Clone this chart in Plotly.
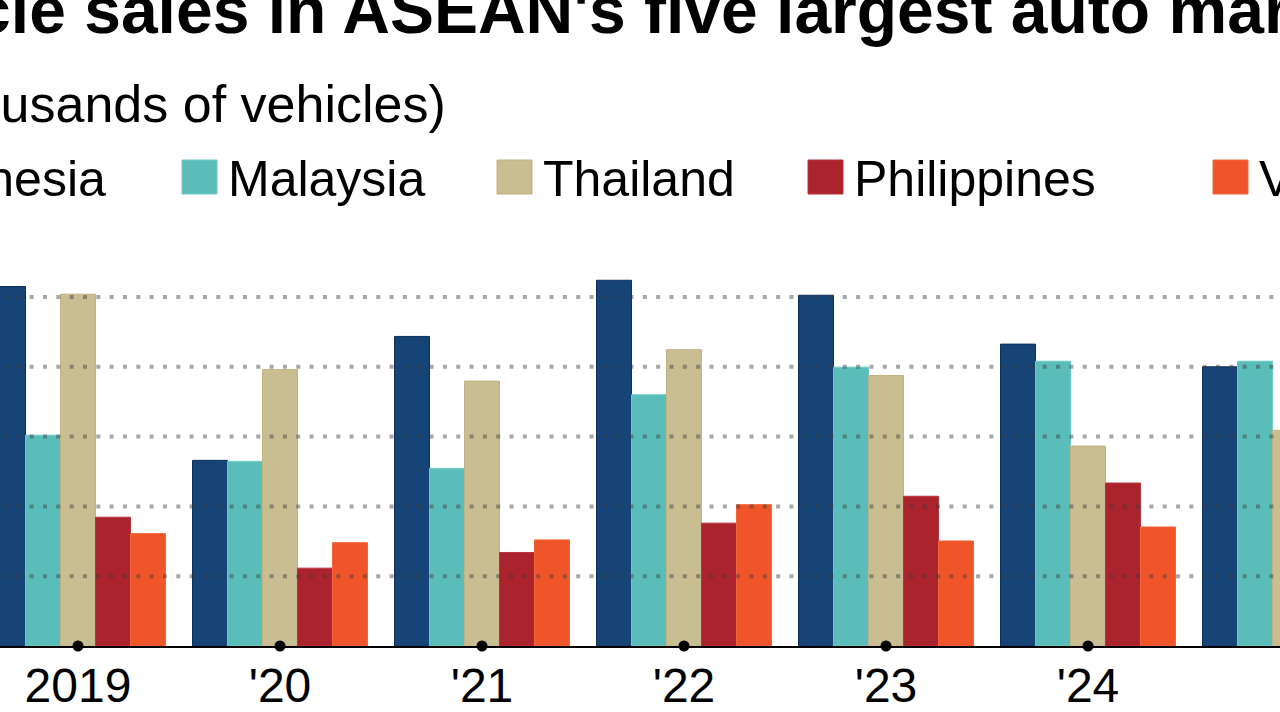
import plotly.graph_objects as go

# ---- data (thousands of vehicles) ----
years = ["2019", "'20", "'21", "'22", "'23", "'24", "'25"]
countries = ["Indonesia", "Malaysia", "Thailand", "Philippines", "Vietnam"]
indonesia = [1030, 532, 887, 1048, 1005, 865, 800]
malaysia = [604, 529, 509, 720, 799, 816, 816]
thailand = [1008, 792, 759, 849, 775, 573, 618]
philippines = [369, 223, 268, 352, 429, 467, None]
vietnam = [322, 296, 304, 405, 301, 341, None]
series = [indonesia, malaysia, thailand, philippines, vietnam]
colors = ["#164477", "#5bbdb9", "#c9bd92", "#ab232c", "#ef5529"]
outlines = ["#0c2f5c", "#6ccbc7", "#c2b383", "#b8343c", "#f2663c"]
grid_values = [200, 400, 600, 800, 1000]

W, H = 1280, 712
TOP, BASE = 244, 646
SCALE = 0.349  # pixels per thousand vehicles
FONT = "Liberation Sans, Arial, sans-serif"


def px_x(x):
    return x / W


def px_y(y):
    return (BASE - y) / (BASE - TOP)


fig = go.Figure()
for name, vals, c, oc in zip(countries, series, colors, outlines):
    fig.add_trace(go.Bar(
        x=years, y=vals, name=name,
        marker=dict(color=c, line=dict(color=oc, width=1)),
        showlegend=False,
    ))

# tick dots on the baseline
fig.add_trace(go.Scatter(
    x=years, y=[0] * len(years), mode="markers",
    marker=dict(color="black", size=11),
    cliponaxis=False, showlegend=False, hoverinfo="skip",
))

shapes = []
for g in grid_values:
    shapes.append(dict(
        type="line", xref="paper", yref="y", x0=px_x(3), x1=1, y0=g, y1=g,
        layer="above", line=dict(color="rgba(60,60,60,0.45)", width=4, dash="4px,9.33px"),
    ))

# custom legend
legend_x = [-157, 182, 497, 808, 1213]
annotations = []
for sx, name, c, oc in zip(legend_x, countries, colors, outlines):
    shapes.append(dict(
        type="rect", xref="paper", yref="paper",
        x0=px_x(sx), x1=px_x(sx + 35), y0=px_y(194), y1=px_y(160),
        fillcolor=c, line=dict(color=oc, width=1),
    ))
    annotations.append(dict(
        xref="paper", yref="paper", x=px_x(sx + 44), y=px_y(179),
        xanchor="left", yanchor="middle", showarrow=False,
        text=name, font=dict(family=FONT, size=50, color="black"),
    ))

# title and subtitle
annotations.append(dict(
    xref="paper", yref="paper", x=px_x(-314), y=px_y(10),
    xanchor="left", yanchor="middle", showarrow=False,
    text="<b>New vehicle sales in ASEAN's five largest auto markets</b>",
    font=dict(family=FONT, size=66, color="black"),
))
annotations.append(dict(
    xref="paper", yref="paper", x=px_x(448), y=px_y(104),
    xanchor="right", yanchor="middle", showarrow=False,
    text="(thousands of vehicles)",
    font=dict(family=FONT, size=52, color="black"),
))

fig.update_layout(
    width=W, height=H,
    margin=dict(l=0, r=0, t=TOP, b=H - BASE, autoexpand=False),
    paper_bgcolor="white", plot_bgcolor="white",
    barmode="group", bargap=0.134, bargroupgap=0,
    shapes=shapes, annotations=annotations,
    showlegend=False,
    xaxis=dict(
        type="category", range=[-78 / 202, -78 / 202 + W / 202],
        showgrid=False, showline=True, linecolor="black", linewidth=2,
        ticks="", tickfont=dict(family=FONT, size=48, color="black"),
        ticklabelstandoff=-4,
        layer="above traces", zeroline=False, fixedrange=True, automargin=False,
    ),
    yaxis=dict(
        range=[0, (BASE - TOP) / SCALE], showgrid=False, zeroline=False,
        showticklabels=False, fixedrange=True, automargin=False,
    ),
)

fig.write_html("out.html")
